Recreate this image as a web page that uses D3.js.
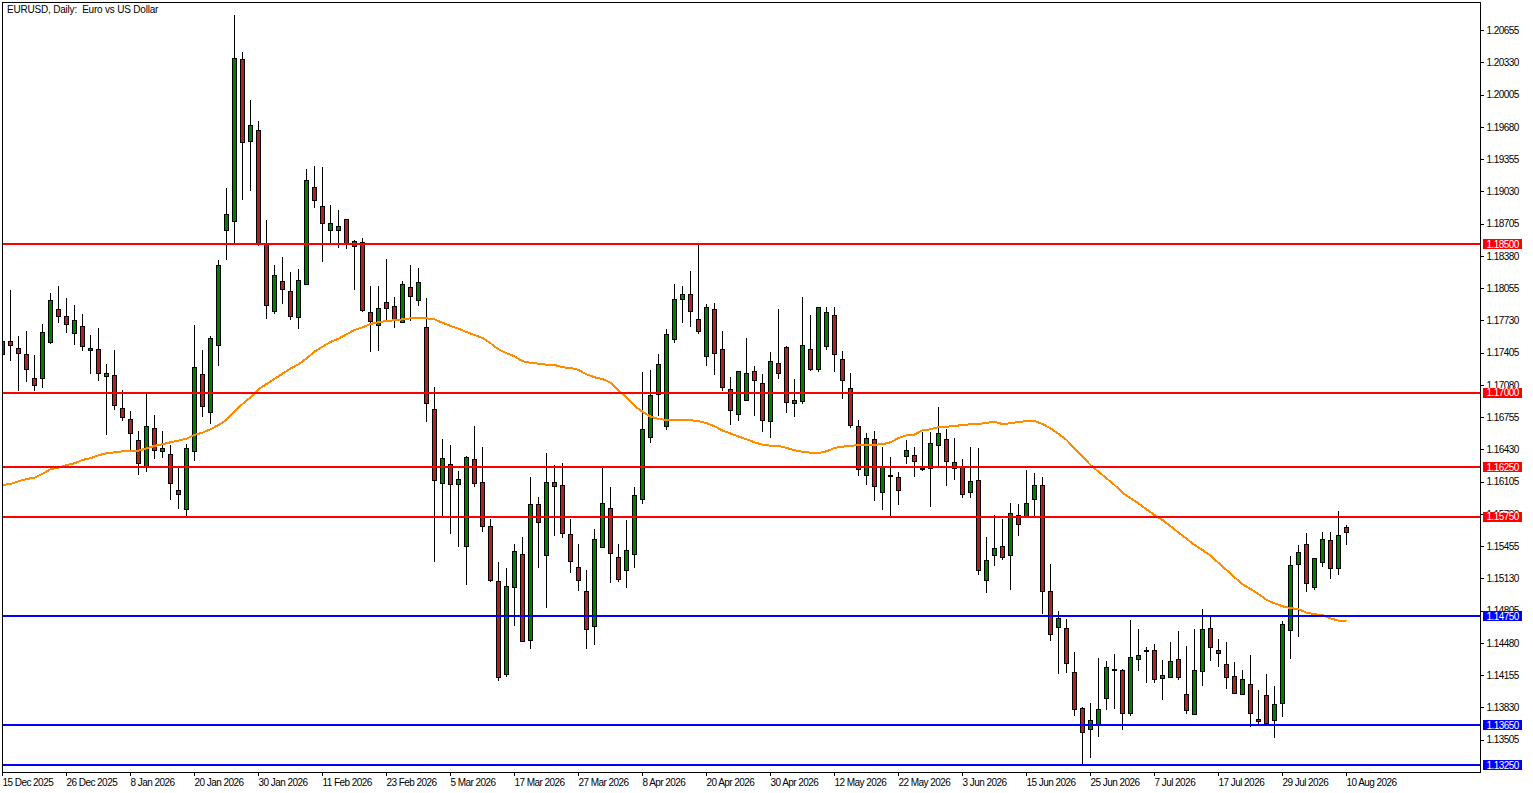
<!DOCTYPE html>
<html>
<head>
<meta charset="utf-8">
<title>EURUSD</title>
<script src="https://cdn.jsdelivr.net/npm/d3@7"></script>
<style>
	html, body { margin: 0; padding: 0; background: #fff; overflow: hidden; }
	text { font-family: "Liberation Sans", sans-serif; font-size: 10px; letter-spacing: -0.55px; fill: #000; }
	.title { letter-spacing: -0.2px; }
</style>
</head>
<body>
<div id="chart-area"></div>
<script>
let title = "EURUSD, Daily:\u00a0\u00a0Euro vs US Dollar";

let dateLabels = ["15 Dec 2025", "26 Dec 2025", "8 Jan 2026", "20 Jan 2026", "30 Jan 2026", "11 Feb 2026", "23 Feb 2026", "5 Mar 2026",
	"17 Mar 2026", "27 Mar 2026", "8 Apr 2026", "20 Apr 2026", "30 Apr 2026", "12 May 2026", "22 May 2026", "3 Jun 2026",
	"15 Jun 2026", "25 Jun 2026", "7 Jul 2026", "17 Jul 2026", "29 Jul 2026", "10 Aug 2026"];

let priceTicks = [1.20655, 1.20330, 1.20005, 1.19680, 1.19355, 1.19030, 1.18705, 1.18380, 1.18055, 1.17730, 1.17405, 1.17080,
	1.16755, 1.16430, 1.16105, 1.15780, 1.15455, 1.15130, 1.14805, 1.14480, 1.14155, 1.13830, 1.13505];

let levelPrices = [1.18500, 1.17000, 1.16250, 1.15750, 1.14750, 1.13650, 1.13250];
let levelColors = ["#ff0000", "#ff0000", "#ff0000", "#ff0000", "#0000ff", "#0000ff", "#0000ff"];

let opens = [1.17389, 1.17520, 1.17449, 1.17389, 1.17147, 1.17143, 1.17510, 1.17842, 1.17772, 1.17600,
	1.17671, 1.17429, 1.17439, 1.17167, 1.17177, 1.16845, 1.16734, 1.16522, 1.16260, 1.16643,
	1.16411, 1.16381, 1.16018, 1.15823, 1.16411, 1.17187, 1.16804, 1.17479, 1.18638, 1.18729,
	1.20361, 1.19535, 1.19646, 1.18490, 1.17818, 1.18124, 1.18024, 1.17762, 1.18094, 1.19072,
	1.18880, 1.18638, 1.18638, 1.18749, 1.18477, 1.18517, 1.17812, 1.17679, 1.17913, 1.17872,
	1.17711, 1.18064, 1.17929, 1.17661, 1.16834, 1.16089, 1.16280, 1.16079, 1.15454, 1.16331,
	1.16099, 1.15655, 1.15101, 1.14164, 1.15041, 1.15373, 1.14507, 1.15877, 1.15363, 1.16099,
	1.16069, 1.15575, 1.15242, 1.15000, 1.14648, 1.15444, 1.15837, 1.15343, 1.15212, 1.15373,
	1.15928, 1.16552, 1.16986, 1.16659, 1.17540, 1.17943, 1.17993, 1.17741, 1.17369, 1.17842,
	1.17439, 1.17036, 1.16784, 1.16925, 1.17217, 1.17096, 1.16714, 1.17298, 1.17459, 1.16895,
	1.16915, 1.17439, 1.17238, 1.17469, 1.17782, 1.17338, 1.17046, 1.16663, 1.16169, 1.16532,
	1.15998, 1.16167, 1.16149, 1.16361, 1.16371, 1.16240, 1.16240, 1.16472, 1.16532, 1.16240,
	1.16250, 1.15998, 1.16119, 1.15111, 1.15363, 1.15454, 1.15363, 1.15766, 1.15752, 1.15928,
	1.16069, 1.15000, 1.14638, 1.14628, 1.14184, 1.13821, 1.13610, 1.13660, 1.13922, 1.14202,
	1.14204, 1.13771, 1.14315, 1.14394, 1.14406, 1.14124, 1.14134, 1.14315, 1.13963, 1.13761,
	1.14194, 1.14628, 1.14406, 1.14265, 1.14144, 1.13963, 1.14063, 1.13711, 1.13952, 1.13701,
	1.13872, 1.14607, 1.15273, 1.15474, 1.15041, 1.15293, 1.15514, 1.15232, 1.15645];

let highs = [1.17684, 1.18037, 1.17583, 1.17624, 1.17382, 1.17694, 1.18013, 1.18077, 1.17963, 1.17886,
	1.17795, 1.17593, 1.17654, 1.17291, 1.17432, 1.17029, 1.16827, 1.16616, 1.16992, 1.16777,
	1.16616, 1.16475, 1.16273, 1.16485, 1.17684, 1.17432, 1.17573, 1.18339, 1.19065, 1.20808,
	1.20435, 1.19961, 1.19740, 1.18742, 1.18289, 1.18379, 1.18218, 1.18258, 1.19263, 1.19286,
	1.19276, 1.18893, 1.18843, 1.18752, 1.18541, 1.18568, 1.18077, 1.18077, 1.18349, 1.17966,
	1.18137, 1.18289, 1.18268, 1.17956, 1.17069, 1.16542, 1.16475, 1.16213, 1.16364, 1.16676,
	1.16455, 1.15729, 1.15296, 1.15245, 1.15477, 1.15548, 1.16162, 1.15951, 1.16394, 1.16283,
	1.16303, 1.15729, 1.15477, 1.15215, 1.15638, 1.16273, 1.16052, 1.15487, 1.15719, 1.16052,
	1.17220, 1.17231, 1.17392, 1.17651, 1.18107, 1.18077, 1.18238, 1.18490, 1.17896, 1.17906,
	1.17624, 1.17160, 1.17220, 1.17553, 1.17271, 1.17200, 1.17412, 1.17855, 1.17479, 1.17140,
	1.17966, 1.17785, 1.17875, 1.17875, 1.17875, 1.17422, 1.17210, 1.16727, 1.16603, 1.16616,
	1.16455, 1.16354, 1.16203, 1.16525, 1.16455, 1.16606, 1.16606, 1.16858, 1.16643, 1.16552,
	1.16334, 1.16455, 1.16445, 1.15548, 1.15779, 1.15729, 1.15900, 1.15890, 1.16223, 1.16193,
	1.16162, 1.15283, 1.14802, 1.14728, 1.14389, 1.13842, 1.13875, 1.14338, 1.14308, 1.14369,
	1.14225, 1.14721, 1.14621, 1.14449, 1.14479, 1.14318, 1.14490, 1.14610, 1.14459, 1.14621,
	1.14822, 1.14752, 1.14520, 1.14490, 1.14288, 1.14217, 1.14359, 1.14006, 1.14177, 1.14056,
	1.14711, 1.15366, 1.15467, 1.15588, 1.15333, 1.15598, 1.15598, 1.15810, 1.15669];

let lows = [1.17281, 1.17331, 1.17022, 1.17113, 1.17019, 1.17052, 1.17496, 1.17714, 1.17606, 1.17485,
	1.17425, 1.17193, 1.17123, 1.16579, 1.16830, 1.16720, 1.16417, 1.16175, 1.16206, 1.16337,
	1.16347, 1.15924, 1.15833, 1.15762, 1.16317, 1.16760, 1.16689, 1.17274, 1.18342, 1.18500,
	1.18944, 1.19044, 1.18480, 1.17747, 1.17798, 1.17899, 1.17737, 1.17647, 1.18087, 1.18866,
	1.18322, 1.18510, 1.18463, 1.18453, 1.18040, 1.17818, 1.17415, 1.17425, 1.17734, 1.17657,
	1.17711, 1.17727, 1.17878, 1.16710, 1.15299, 1.15759, 1.15581, 1.15450, 1.15067, 1.16055,
	1.15601, 1.15101, 1.14100, 1.14144, 1.14654, 1.14493, 1.14419, 1.15238, 1.14835, 1.15561,
	1.15541, 1.15188, 1.15007, 1.14422, 1.14462, 1.15444, 1.15087, 1.15097, 1.15037, 1.15238,
	1.15883, 1.16498, 1.16767, 1.16629, 1.17506, 1.17707, 1.17667, 1.17596, 1.17274, 1.17183,
	1.17022, 1.16679, 1.16720, 1.16921, 1.16770, 1.16609, 1.16548, 1.17143, 1.16800, 1.16760,
	1.16895, 1.17227, 1.17217, 1.17435, 1.17213, 1.16941, 1.16649, 1.16165, 1.16075, 1.15913,
	1.15823, 1.15759, 1.15873, 1.16286, 1.16155, 1.16220, 1.15853, 1.16263, 1.16065, 1.16125,
	1.15944, 1.15944, 1.15168, 1.14986, 1.15258, 1.15323, 1.15014, 1.15558, 1.15749, 1.15752,
	1.14775, 1.14503, 1.14170, 1.14180, 1.13747, 1.13257, 1.13324, 1.13535, 1.13807, 1.13817,
	1.13606, 1.13747, 1.14200, 1.14079, 1.14079, 1.13908, 1.14134, 1.14110, 1.13767, 1.13761,
	1.14049, 1.14301, 1.14241, 1.14016, 1.13966, 1.13963, 1.13636, 1.13660, 1.13660, 1.13525,
	1.13737, 1.14328, 1.14540, 1.14996, 1.15017, 1.15255, 1.15134, 1.15165, 1.15467];

let closes = [1.17520, 1.17475, 1.17395, 1.17234, 1.17072, 1.17610, 1.17933, 1.17772, 1.17691, 1.17731,
	1.17469, 1.17449, 1.17197, 1.17197, 1.16875, 1.16754, 1.16593, 1.16290, 1.16663, 1.16421,
	1.16441, 1.16089, 1.15974, 1.16441, 1.17258, 1.16865, 1.17550, 1.18286, 1.18799, 1.20372,
	1.19525, 1.19696, 1.18500, 1.17882, 1.18185, 1.18040, 1.17772, 1.18134, 1.19142, 1.18941,
	1.18709, 1.18709, 1.18679, 1.18503, 1.18530, 1.17832, 1.17717, 1.17852, 1.17852, 1.17727,
	1.18094, 1.17969, 1.18114, 1.16891, 1.16119, 1.16341, 1.16079, 1.16129, 1.16351, 1.16089,
	1.15655, 1.15111, 1.14134, 1.15051, 1.15404, 1.14497, 1.15877, 1.15696, 1.16099, 1.16059,
	1.15585, 1.15303, 1.15111, 1.14618, 1.15524, 1.15887, 1.15383, 1.15121, 1.15414, 1.15968,
	1.16633, 1.16976, 1.17288, 1.17590, 1.17943, 1.17993, 1.17822, 1.17620, 1.17862, 1.17399,
	1.17056, 1.16824, 1.17217, 1.17197, 1.17127, 1.16724, 1.17318, 1.17197, 1.16905, 1.16925,
	1.17479, 1.17238, 1.17862, 1.17812, 1.17389, 1.17127, 1.16673, 1.16230, 1.16542, 1.16059,
	1.16250, 1.16157, 1.16018, 1.16421, 1.16310, 1.16230, 1.16492, 1.16593, 1.16310, 1.16300,
	1.15978, 1.16109, 1.15212, 1.15313, 1.15434, 1.15343, 1.15786, 1.15676, 1.15887, 1.16069,
	1.15000, 1.14567, 1.14728, 1.14275, 1.13811, 1.13580, 1.13701, 1.13811, 1.14235, 1.14212,
	1.13771, 1.14335, 1.14356, 1.14404, 1.14114, 1.14154, 1.14295, 1.14134, 1.13801, 1.14204,
	1.14618, 1.14436, 1.14372, 1.14130, 1.13973, 1.14114, 1.13771, 1.13690, 1.13670, 1.13862,
	1.14668, 1.15262, 1.15393, 1.15081, 1.15333, 1.15524, 1.15232, 1.15565, 1.15595];

// average
let movingAvg = [1.16072, 1.16082, 1.16109, 1.16132, 1.16145, 1.16183, 1.16230, 1.16246, 1.16273, 1.16290,
	1.16324, 1.16341, 1.16371, 1.16391, 1.16401, 1.16411, 1.16414, 1.16417, 1.16441, 1.16465,
	1.16482, 1.16502, 1.16518, 1.16538, 1.16576, 1.16599, 1.16633, 1.16676, 1.16727, 1.16810,
	1.16888, 1.16955, 1.17036, 1.17089, 1.17140, 1.17193, 1.17244, 1.17288, 1.17348, 1.17415,
	1.17465, 1.17513, 1.17546, 1.17590, 1.17634, 1.17661, 1.17694, 1.17713, 1.17724, 1.17731,
	1.17741, 1.17751, 1.17754, 1.17751, 1.17741, 1.17707, 1.17674, 1.17647, 1.17613, 1.17583,
	1.17553, 1.17500, 1.17439, 1.17399, 1.17369, 1.17318, 1.17304, 1.17294, 1.17284, 1.17281,
	1.17258, 1.17251, 1.17231, 1.17187, 1.17157, 1.17140, 1.17103, 1.17026, 1.16958, 1.16868,
	1.16810, 1.16760, 1.16737, 1.16727, 1.16727, 1.16727, 1.16724, 1.16714, 1.16695, 1.16663,
	1.16621, 1.16591, 1.16560, 1.16532, 1.16502, 1.16478, 1.16468, 1.16465, 1.16445, 1.16421,
	1.16407, 1.16397, 1.16394, 1.16411, 1.16445, 1.16458, 1.16465, 1.16475, 1.16475, 1.16478,
	1.16482, 1.16502, 1.16545, 1.16573, 1.16579, 1.16623, 1.16633, 1.16656, 1.16659, 1.16666,
	1.16676, 1.16683, 1.16686, 1.16699, 1.16707, 1.16686, 1.16693, 1.16707, 1.16714, 1.16717,
	1.16686, 1.16643, 1.16586, 1.16525, 1.16441, 1.16357, 1.16273, 1.16206, 1.16139, 1.16072,
	1.15994, 1.15938, 1.15887, 1.15827, 1.15769, 1.15719, 1.15658, 1.15591, 1.15531, 1.15467,
	1.15417, 1.15361, 1.15286, 1.15215, 1.15142, 1.15071, 1.15024, 1.14973, 1.14913, 1.14880,
	1.14849, 1.14832, 1.14819, 1.14785, 1.14769, 1.14762, 1.14728, 1.14704, 1.14701];

let bars = opens.map((open, i) => ({ i: i, open: open, high: highs[i], low: lows[i], close: closes[i] }));

let totalW = 1533, totalH = 793;
let plot = { left: 2, right: 1480, top: 2, bottom: 772 };

let svg = d3.select("#chart-area")
	.append("svg")
	.attr("width", totalW)
	.attr("height", totalH)
	.style("display", "block");

// Scales
let x = d3.scaleLinear()
	.domain([0, opens.length - 1])
	.range([2.5, 1346.5]);

let y = d3.scaleLinear()
	.domain([1.18500, 1.13250])
	.range([244, 765]);

// keep everything on whole pixels, the platform draws without smoothing
let py = (v) => Math.floor(y(v)) + 0.5;

svg.append("clipPath")
	.attr("id", "plot-clip")
	.append("rect")
	.attr("x", plot.left)
	.attr("y", plot.top)
	.attr("width", plot.right - plot.left)
	.attr("height", plot.bottom - plot.top);

let g = svg.append("g")
	.attr("clip-path", "url(#plot-clip)")
	.attr("shape-rendering", "crispEdges");

// Wicks
g.selectAll("line.wick")
	.data(bars)
	.enter()
	.append("line")
	.attr("class", "wick")
	.attr("x1", (d) => x(d.i))
	.attr("x2", (d) => x(d.i))
	.attr("y1", (d) => py(d.high))
	.attr("y2", (d) => py(d.low))
	.attr("stroke", "#000")
	.attr("stroke-width", 1);

// Bodies
g.selectAll("rect.body")
	.data(bars)
	.enter()
	.append("rect")
	.attr("class", "body")
	.attr("x", (d) => x(d.i) - 2)
	.attr("width", 4)
	.attr("y", (d) => py(Math.max(d.open, d.close)))
	.attr("height", (d) => py(Math.min(d.open, d.close)) - py(Math.max(d.open, d.close)))
	.attr("fill", (d) => d.close >= d.open ? "#008000" : "#b22222")
	.attr("stroke", "#000")
	.attr("stroke-width", 1);

// Moving average
let maLine = d3.line()
	.x((d, i) => x(i))
	.y((d) => y(d));

g.append("path")
	.attr("d", maLine(movingAvg))
	.attr("fill", "none")
	.attr("stroke", "#ff8c00")
	.attr("stroke-width", 2);

// Levels
g.selectAll("line.level")
	.data(levelPrices)
	.enter()
	.append("line")
	.attr("class", "level")
	.attr("x1", plot.left)
	.attr("x2", plot.right)
	.attr("y1", (d) => y(d))
	.attr("y2", (d) => y(d))
	.attr("stroke", (d, i) => levelColors[i])
	.attr("stroke-width", 2);

// Frame
svg.append("rect")
	.attr("x", plot.left + 0.5)
	.attr("y", plot.top + 0.5)
	.attr("width", plot.right - plot.left)
	.attr("height", plot.bottom - plot.top)
	.attr("fill", "none")
	.attr("stroke", "#000")
	.attr("shape-rendering", "crispEdges");

// Price axis
let yAxisCall = d3.axisRight(y)
	.tickValues(priceTicks)
	.tickSize(3)
	.tickPadding(3)
	.tickFormat(d3.format(".5f"));
let yAxis = svg.append("g")
	.attr("transform", "translate(" + (plot.right + 0.5) + ",0)")
	.call(yAxisCall);
yAxis.select(".domain").remove();
yAxis.selectAll("line").attr("shape-rendering", "crispEdges");

// Date axis
let xAxisCall = d3.axisBottom(x)
	.tickValues(dateLabels.map((d, i) => i * 8))
	.tickSize(3)
	.tickPadding(3)
	.offset(0)
	.tickFormat((d) => dateLabels[d / 8]);
let xAxis = svg.append("g")
	.attr("transform", "translate(0," + (plot.bottom + 0.5) + ")")
	.call(xAxisCall);
xAxis.select(".domain").remove();
xAxis.selectAll("line").attr("shape-rendering", "crispEdges");
xAxis.selectAll("text").attr("text-anchor", "start");

// Price tags for the levels
let tags = svg.selectAll("g.tag")
	.data(levelPrices)
	.enter()
	.append("g")
	.attr("class", "tag")
	.attr("transform", (d) => "translate(1483," + y(d) + ")");

tags.append("rect")
	.attr("y", -5)
	.attr("width", 39)
	.attr("height", 10)
	.attr("fill", (d, i) => levelColors[i])
	.attr("shape-rendering", "crispEdges");

tags.append("text")
	.attr("x", 3.5)
	.attr("y", 3.5)
	.style("fill", "#fff")
	.text((d) => d3.format(".5f")(d));

// Title
svg.append("text")
	.attr("class", "title")
	.attr("x", 7)
	.attr("y", 13)
	.text(title);
</script>
</body>
</html>
